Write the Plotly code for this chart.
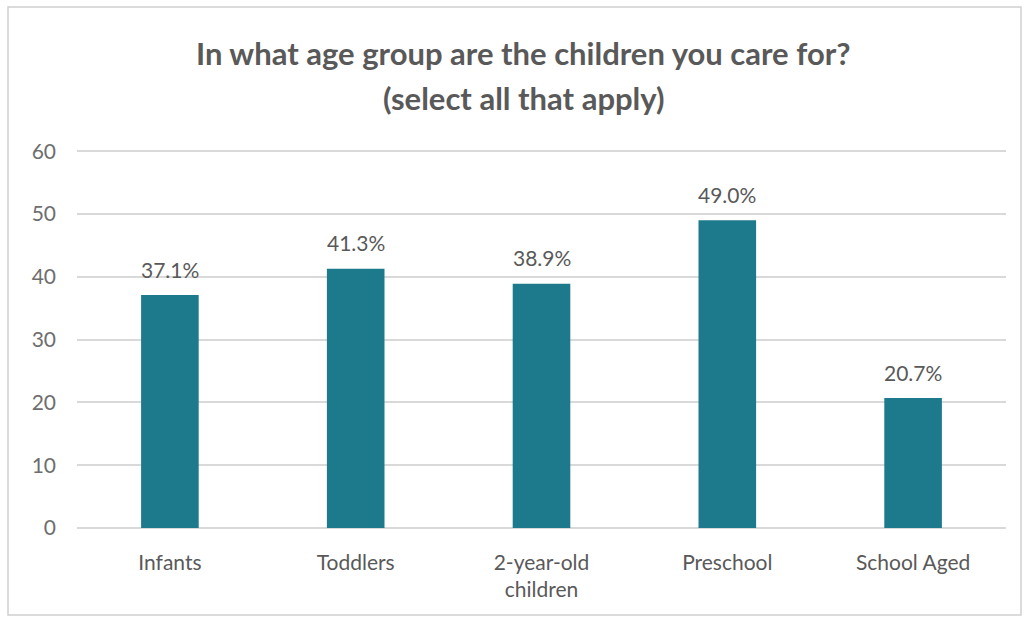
import plotly.graph_objects as go

categories = ["Infants", "Toddlers", "2-year-old<br>children", "Preschool", "School Aged"]
values = [37.1, 41.3, 38.9, 49.0, 20.7]
labels = [f"{v:.1f}%" for v in values]
y_ticks = [0, 10, 20, 30, 40, 50, 60]
title_lines = ["In what age group are the children you care for?", "(select all that apply)"]

W, H = 1029, 621
ml, mr, mt, mb = 77, 23, 150, 93
pw, ph = W - ml - mr, H - mt - mb

def px_x(x):
    return (x - ml) / pw

def px_y(y):
    return (H - mb - y) / ph

fig = go.Figure(go.Bar(
    x=categories, y=values,
    marker=dict(color="#1C7A8C", line=dict(width=0)),
))

annotations = [
    dict(text=lab, x=c, y=v, xref="x", yref="y", yshift=26, showarrow=False,
         xanchor="center", yanchor="middle",
         font=dict(family="Lato", size=21, color="#595959"))
    for c, v, lab in zip(categories, values, labels)
]
annotations += [
    dict(text=f"<b>{t}</b>", xref="paper", yref="paper", x=px_x(W / 2 + 9), y=px_y(yy),
         xanchor="center", yanchor="middle", showarrow=False,
         font=dict(family="Lato", size=31, color="#595959"))
    for t, yy in zip(title_lines, [53, 98])
]

fig.update_layout(
    width=W, height=H,
    margin=dict(l=ml, r=mr, t=mt, b=mb),
    paper_bgcolor="white", plot_bgcolor="white",
    bargap=0.69,
    showlegend=False,
    font=dict(family="Lato", color="#595959"),
    xaxis=dict(
        showgrid=False, showline=False, ticks="", ticklabelstandoff=20,
        tickfont=dict(family="Lato", size=21, color="#595959"),
    ),
    yaxis=dict(
        range=[0, 60.2], tickvals=y_ticks, showgrid=True, gridcolor="#D9D9D9", gridwidth=1.5,
        zeroline=True, zerolinecolor="#D9D9D9", zerolinewidth=1.5,
        showline=False, ticks="", ticklabelstandoff=20,
        tickfont=dict(family="Lato", size=21, color="#6E6E6E"),
    ),
    annotations=annotations,
    shapes=[dict(
        type="rect", xref="paper", yref="paper",
        x0=px_x(8), x1=px_x(1021), y0=px_y(615), y1=px_y(7),
        line=dict(color="#D0D0D0", width=1.5), fillcolor="rgba(0,0,0,0)", layer="below",
    )],
)

fig.write_html("out.html")
